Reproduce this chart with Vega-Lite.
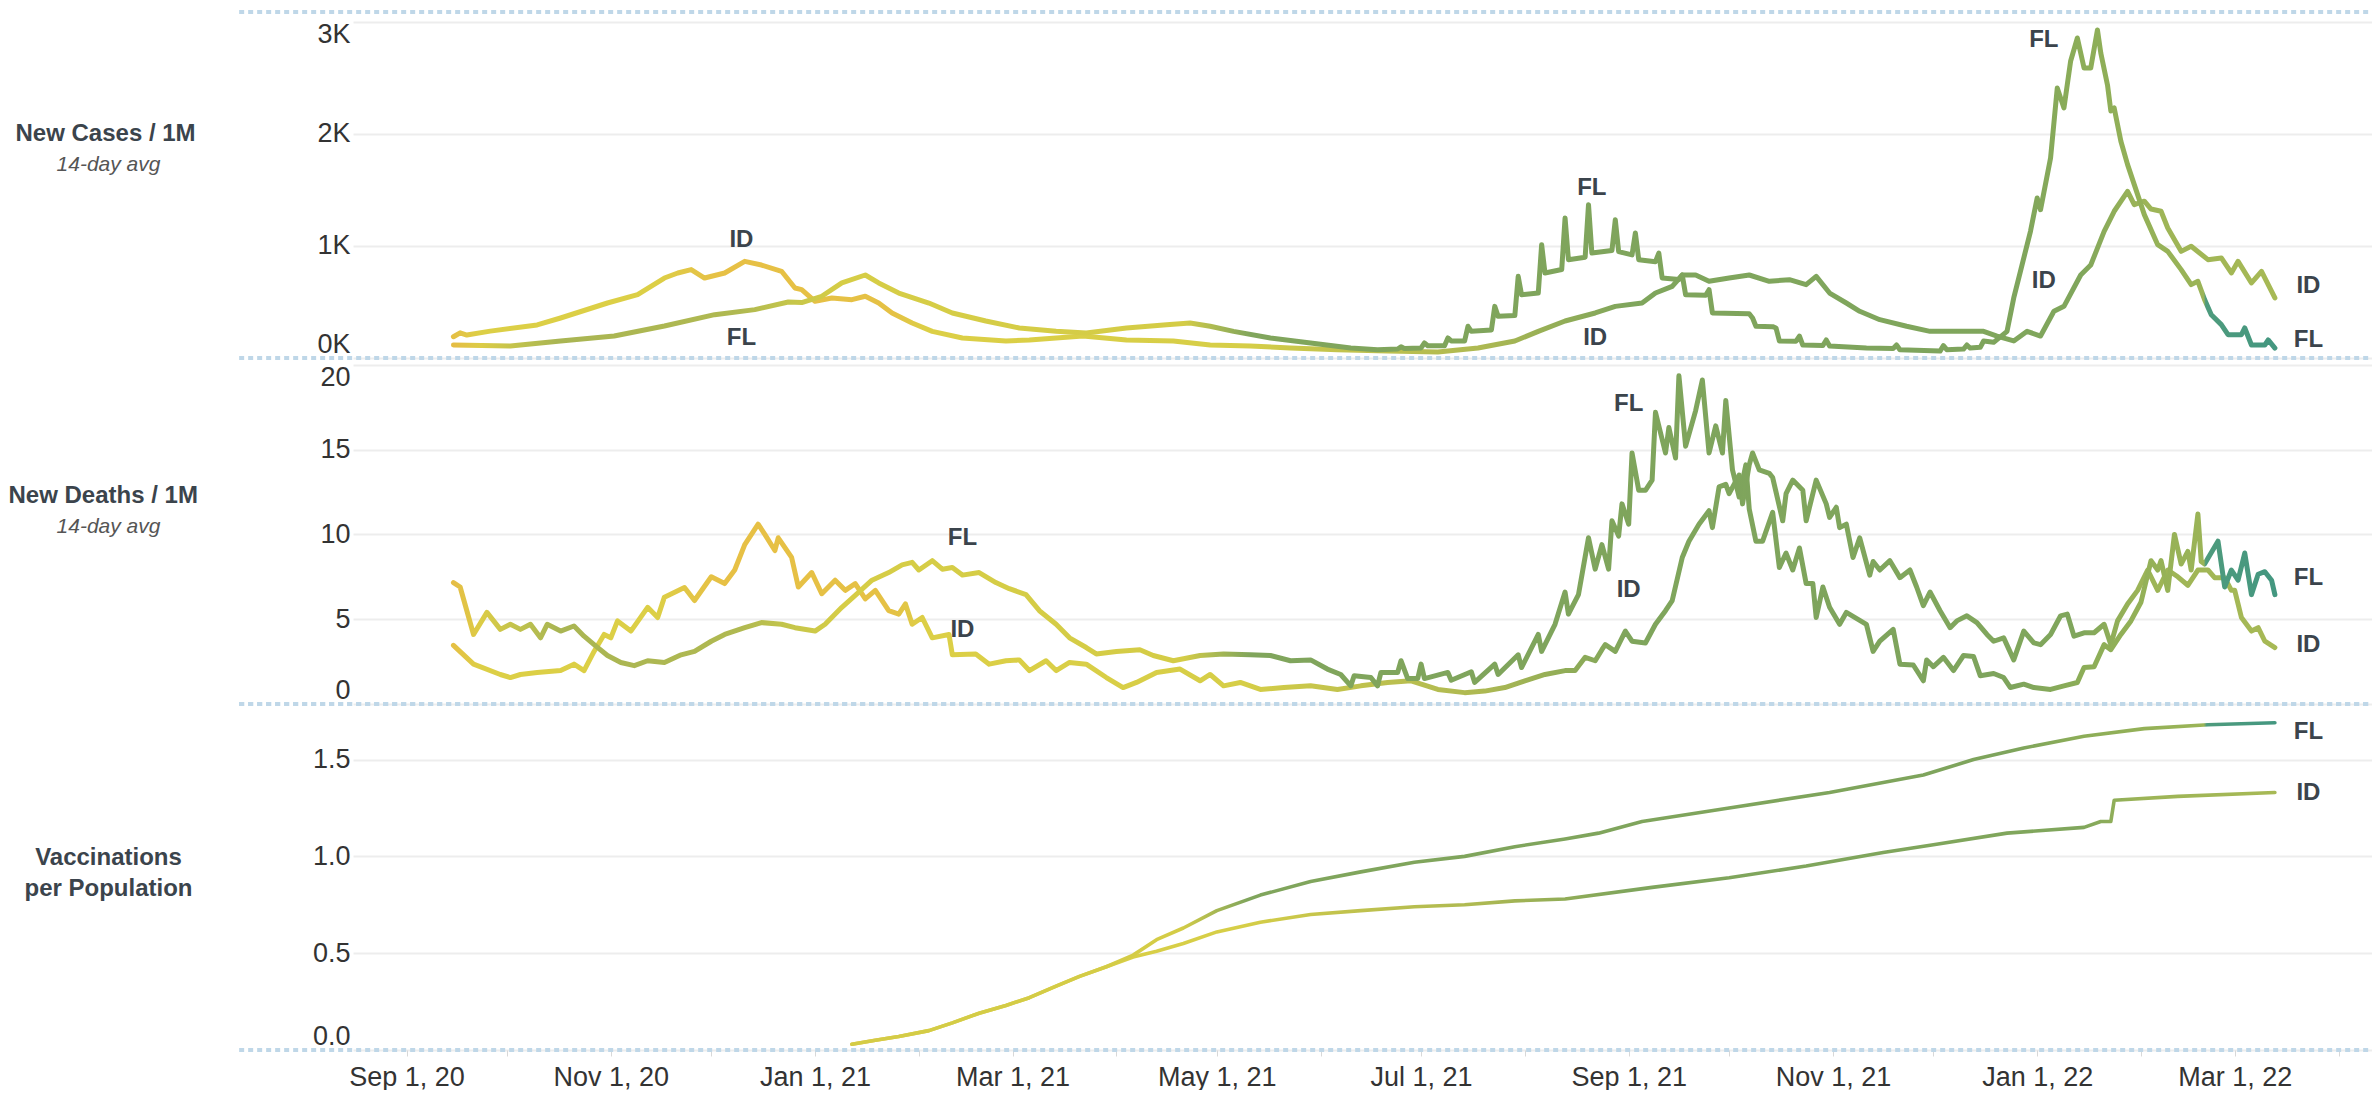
{
  "$schema": "https://vega.github.io/schema/vega-lite/v6.json",
  "background": "white",
  "padding": {"left": 8, "top": 10, "right": 0, "bottom": 0},
  "config": {"view": {"stroke": null}, "font": "Liberation Sans"},
  "bounds": "flush",
  "spacing": 0,
  "datasets": {
    "cases": [
      {"d":"2020-09-15","s":"FL","v":116},{"d":"2020-10-02","s":"FL","v":107},{"d":"2020-10-17","s":"FL","v":152},{"d":"2020-11-02","s":"FL","v":196},{"d":"2020-11-17","s":"FL","v":286},{"d":"2020-12-02","s":"FL","v":387},{"d":"2020-12-14","s":"FL","v":432},{"d":"2020-12-24","s":"FL","v":500},{"d":"2020-12-28","s":"FL","v":495},{"d":"2021-01-03","s":"FL","v":551},{"d":"2021-01-09","s":"FL","v":670},{"d":"2021-01-16","s":"FL","v":741},{"d":"2021-01-20","s":"FL","v":670},{"d":"2021-01-26","s":"FL","v":580},{"d":"2021-02-04","s":"FL","v":491},{"d":"2021-02-11","s":"FL","v":402},{"d":"2021-02-21","s":"FL","v":330},{"d":"2021-03-03","s":"FL","v":268},{"d":"2021-03-14","s":"FL","v":238},{"d":"2021-03-23","s":"FL","v":223},{"d":"2021-04-04","s":"FL","v":268},{"d":"2021-04-16","s":"FL","v":297},{"d":"2021-04-23","s":"FL","v":312},{"d":"2021-04-29","s":"FL","v":283},{"d":"2021-05-06","s":"FL","v":238},{"d":"2021-05-17","s":"FL","v":179},{"d":"2021-05-29","s":"FL","v":134},{"d":"2021-06-10","s":"FL","v":89},{"d":"2021-06-18","s":"FL","v":74},{"d":"2021-06-24","s":"FL","v":80},{"d":"2021-06-25","s":"FL","v":100},{"d":"2021-06-26","s":"FL","v":85},{"d":"2021-07-01","s":"FL","v":90},{"d":"2021-07-02","s":"FL","v":134},{"d":"2021-07-03","s":"FL","v":110},{"d":"2021-07-08","s":"FL","v":110},{"d":"2021-07-09","s":"FL","v":179},{"d":"2021-07-10","s":"FL","v":152},{"d":"2021-07-14","s":"FL","v":152},{"d":"2021-07-15","s":"FL","v":283},{"d":"2021-07-16","s":"FL","v":238},{"d":"2021-07-22","s":"FL","v":250},{"d":"2021-07-23","s":"FL","v":461},{"d":"2021-07-24","s":"FL","v":372},{"d":"2021-07-29","s":"FL","v":380},{"d":"2021-07-30","s":"FL","v":729},{"d":"2021-07-31","s":"FL","v":565},{"d":"2021-08-05","s":"FL","v":580},{"d":"2021-08-06","s":"FL","v":1012},{"d":"2021-08-07","s":"FL","v":759},{"d":"2021-08-12","s":"FL","v":790},{"d":"2021-08-13","s":"FL","v":1250},{"d":"2021-08-14","s":"FL","v":878},{"d":"2021-08-19","s":"FL","v":900},{"d":"2021-08-20","s":"FL","v":1369},{"d":"2021-08-21","s":"FL","v":937},{"d":"2021-08-27","s":"FL","v":960},{"d":"2021-08-28","s":"FL","v":1235},{"d":"2021-08-29","s":"FL","v":950},{"d":"2021-09-02","s":"FL","v":920},{"d":"2021-09-03","s":"FL","v":1116},{"d":"2021-09-04","s":"FL","v":878},{"d":"2021-09-09","s":"FL","v":860},{"d":"2021-09-10","s":"FL","v":937},{"d":"2021-09-11","s":"FL","v":714},{"d":"2021-09-16","s":"FL","v":700},{"d":"2021-09-17","s":"FL","v":741},{"d":"2021-09-18","s":"FL","v":565},{"d":"2021-09-24","s":"FL","v":560},{"d":"2021-09-25","s":"FL","v":610},{"d":"2021-09-26","s":"FL","v":402},{"d":"2021-10-07","s":"FL","v":395},{"d":"2021-10-08","s":"FL","v":357},{"d":"2021-10-09","s":"FL","v":283},{"d":"2021-10-14","s":"FL","v":280},{"d":"2021-10-15","s":"FL","v":268},{"d":"2021-10-16","s":"FL","v":152},{"d":"2021-10-21","s":"FL","v":150},{"d":"2021-10-22","s":"FL","v":196},{"d":"2021-10-23","s":"FL","v":116},{"d":"2021-10-29","s":"FL","v":112},{"d":"2021-10-30","s":"FL","v":161},{"d":"2021-10-31","s":"FL","v":107},{"d":"2021-11-11","s":"FL","v":89},{"d":"2021-11-19","s":"FL","v":85},{"d":"2021-11-20","s":"FL","v":116},{"d":"2021-11-21","s":"FL","v":74},{"d":"2021-12-03","s":"FL","v":62},{"d":"2021-12-04","s":"FL","v":110},{"d":"2021-12-05","s":"FL","v":74},{"d":"2021-12-10","s":"FL","v":80},{"d":"2021-12-11","s":"FL","v":116},{"d":"2021-12-12","s":"FL","v":89},{"d":"2021-12-15","s":"FL","v":95},{"d":"2021-12-16","s":"FL","v":152},{"d":"2021-12-19","s":"FL","v":140},{"d":"2021-12-23","s":"FL","v":238},{"d":"2021-12-25","s":"FL","v":536},{"d":"2021-12-27","s":"FL","v":774},{"d":"2021-12-30","s":"FL","v":1131},{"d":"2022-01-01","s":"FL","v":1429},{"d":"2022-01-02","s":"FL","v":1324},{"d":"2022-01-05","s":"FL","v":1786},{"d":"2022-01-07","s":"FL","v":2411},{"d":"2022-01-09","s":"FL","v":2232},{"d":"2022-01-11","s":"FL","v":2652},{"d":"2022-01-13","s":"FL","v":2857},{"d":"2022-01-15","s":"FL","v":2589},{"d":"2022-01-17","s":"FL","v":2589},{"d":"2022-01-19","s":"FL","v":2929},{"d":"2022-01-20","s":"FL","v":2723},{"d":"2022-01-22","s":"FL","v":2438},{"d":"2022-01-23","s":"FL","v":2205},{"d":"2022-01-24","s":"FL","v":2232},{"d":"2022-01-26","s":"FL","v":1935},{"d":"2022-01-28","s":"FL","v":1726},{"d":"2022-01-30","s":"FL","v":1548},{"d":"2022-02-02","s":"FL","v":1280},{"d":"2022-02-06","s":"FL","v":1012},{"d":"2022-02-09","s":"FL","v":952},{"d":"2022-02-13","s":"FL","v":789},{"d":"2022-02-16","s":"FL","v":655},{"d":"2022-02-18","s":"FL","v":685},{"d":"2022-02-20","s":"FL","v":521},{"d":"2022-02-22","s":"FL","v":387},{"d":"2022-02-25","s":"FL","v":298},{"d":"2022-02-27","s":"FL","v":208},{"d":"2022-03-03","s":"FL","v":208},{"d":"2022-03-04","s":"FL","v":268},{"d":"2022-03-06","s":"FL","v":116},{"d":"2022-03-10","s":"FL","v":116},{"d":"2022-03-11","s":"FL","v":161},{"d":"2022-03-13","s":"FL","v":89},
      {"d":"2020-09-15","s":"ID","v":190},{"d":"2020-09-17","s":"ID","v":225},{"d":"2020-09-19","s":"ID","v":205},{"d":"2020-09-26","s":"ID","v":240},{"d":"2020-10-10","s":"ID","v":295},{"d":"2020-10-17","s":"ID","v":357},{"d":"2020-10-31","s":"ID","v":491},{"d":"2020-11-09","s":"ID","v":565},{"d":"2020-11-17","s":"ID","v":714},{"d":"2020-11-21","s":"ID","v":759},{"d":"2020-11-25","s":"ID","v":789},{"d":"2020-11-29","s":"ID","v":714},{"d":"2020-12-05","s":"ID","v":759},{"d":"2020-12-11","s":"ID","v":863},{"d":"2020-12-16","s":"ID","v":830},{"d":"2020-12-22","s":"ID","v":774},{"d":"2020-12-26","s":"ID","v":625},{"d":"2020-12-28","s":"ID","v":610},{"d":"2021-01-01","s":"ID","v":506},{"d":"2021-01-06","s":"ID","v":536},{"d":"2021-01-12","s":"ID","v":521},{"d":"2021-01-16","s":"ID","v":551},{"d":"2021-01-20","s":"ID","v":491},{"d":"2021-01-24","s":"ID","v":402},{"d":"2021-01-30","s":"ID","v":312},{"d":"2021-02-05","s":"ID","v":238},{"d":"2021-02-14","s":"ID","v":179},{"d":"2021-02-27","s":"ID","v":152},{"d":"2021-03-06","s":"ID","v":161},{"d":"2021-03-22","s":"ID","v":196},{"d":"2021-04-04","s":"ID","v":161},{"d":"2021-04-18","s":"ID","v":152},{"d":"2021-04-29","s":"ID","v":116},{"d":"2021-05-11","s":"ID","v":107},{"d":"2021-05-23","s":"ID","v":89},{"d":"2021-06-06","s":"ID","v":74},{"d":"2021-06-21","s":"ID","v":62},{"d":"2021-07-06","s":"ID","v":54},{"d":"2021-07-18","s":"ID","v":89},{"d":"2021-07-29","s":"ID","v":152},{"d":"2021-08-05","s":"ID","v":238},{"d":"2021-08-13","s":"ID","v":330},{"d":"2021-08-22","s":"ID","v":402},{"d":"2021-08-28","s":"ID","v":461},{"d":"2021-09-05","s":"ID","v":491},{"d":"2021-09-09","s":"ID","v":580},{"d":"2021-09-14","s":"ID","v":640},{"d":"2021-09-17","s":"ID","v":741},{"d":"2021-09-21","s":"ID","v":741},{"d":"2021-09-25","s":"ID","v":685},{"d":"2021-10-01","s":"ID","v":714},{"d":"2021-10-07","s":"ID","v":741},{"d":"2021-10-13","s":"ID","v":685},{"d":"2021-10-19","s":"ID","v":699},{"d":"2021-10-24","s":"ID","v":655},{"d":"2021-10-27","s":"ID","v":729},{"d":"2021-10-31","s":"ID","v":580},{"d":"2021-11-05","s":"ID","v":491},{"d":"2021-11-09","s":"ID","v":417},{"d":"2021-11-15","s":"ID","v":342},{"d":"2021-11-23","s":"ID","v":283},{"d":"2021-11-30","s":"ID","v":238},{"d":"2021-12-10","s":"ID","v":238},{"d":"2021-12-16","s":"ID","v":238},{"d":"2021-12-20","s":"ID","v":196},{"d":"2021-12-25","s":"ID","v":152},{"d":"2021-12-29","s":"ID","v":238},{"d":"2022-01-02","s":"ID","v":196},{"d":"2022-01-06","s":"ID","v":417},{"d":"2022-01-09","s":"ID","v":461},{"d":"2022-01-14","s":"ID","v":741},{"d":"2022-01-17","s":"ID","v":830},{"d":"2022-01-21","s":"ID","v":1131},{"d":"2022-01-24","s":"ID","v":1310},{"d":"2022-01-28","s":"ID","v":1488},{"d":"2022-01-30","s":"ID","v":1369},{"d":"2022-02-02","s":"ID","v":1400},{"d":"2022-02-04","s":"ID","v":1330},{"d":"2022-02-07","s":"ID","v":1310},{"d":"2022-02-09","s":"ID","v":1161},{"d":"2022-02-13","s":"ID","v":952},{"d":"2022-02-16","s":"ID","v":997},{"d":"2022-02-21","s":"ID","v":878},{"d":"2022-02-25","s":"ID","v":893},{"d":"2022-02-28","s":"ID","v":759},{"d":"2022-03-02","s":"ID","v":863},{"d":"2022-03-06","s":"ID","v":670},{"d":"2022-03-09","s":"ID","v":774},{"d":"2022-03-13","s":"ID","v":536}
    ],
    "deaths": [
      {"d":"2020-09-15","s":"FL","v":7.16},{"d":"2020-09-17","s":"FL","v":6.9},{"d":"2020-09-21","s":"FL","v":4.1},{"d":"2020-09-25","s":"FL","v":5.4},{"d":"2020-09-29","s":"FL","v":4.4},{"d":"2020-10-02","s":"FL","v":4.7},{"d":"2020-10-05","s":"FL","v":4.4},{"d":"2020-10-08","s":"FL","v":4.7},{"d":"2020-10-11","s":"FL","v":3.9},{"d":"2020-10-13","s":"FL","v":4.7},{"d":"2020-10-17","s":"FL","v":4.3},{"d":"2020-10-21","s":"FL","v":4.6},{"d":"2020-10-24","s":"FL","v":4.0},{"d":"2020-10-27","s":"FL","v":3.5},{"d":"2020-10-31","s":"FL","v":2.86},{"d":"2020-11-04","s":"FL","v":2.45},{"d":"2020-11-08","s":"FL","v":2.26},{"d":"2020-11-12","s":"FL","v":2.55},{"d":"2020-11-17","s":"FL","v":2.45},{"d":"2020-11-22","s":"FL","v":2.9},{"d":"2020-11-26","s":"FL","v":3.1},{"d":"2020-12-01","s":"FL","v":3.7},{"d":"2020-12-05","s":"FL","v":4.1},{"d":"2020-12-11","s":"FL","v":4.5},{"d":"2020-12-16","s":"FL","v":4.8},{"d":"2020-12-22","s":"FL","v":4.7},{"d":"2020-12-26","s":"FL","v":4.5},{"d":"2021-01-01","s":"FL","v":4.3},{"d":"2021-01-04","s":"FL","v":4.7},{"d":"2021-01-09","s":"FL","v":5.7},{"d":"2021-01-13","s":"FL","v":6.4},{"d":"2021-01-18","s":"FL","v":7.3},{"d":"2021-01-23","s":"FL","v":7.75},{"d":"2021-01-27","s":"FL","v":8.2},{"d":"2021-01-30","s":"FL","v":8.35},{"d":"2021-02-01","s":"FL","v":7.9},{"d":"2021-02-05","s":"FL","v":8.45},{"d":"2021-02-08","s":"FL","v":7.95},{"d":"2021-02-11","s":"FL","v":8.05},{"d":"2021-02-14","s":"FL","v":7.6},{"d":"2021-02-19","s":"FL","v":7.75},{"d":"2021-02-24","s":"FL","v":7.16},{"d":"2021-02-28","s":"FL","v":6.8},{"d":"2021-03-05","s":"FL","v":6.45},{"d":"2021-03-09","s":"FL","v":5.5},{"d":"2021-03-14","s":"FL","v":4.7},{"d":"2021-03-18","s":"FL","v":3.9},{"d":"2021-03-23","s":"FL","v":3.33},{"d":"2021-03-26","s":"FL","v":2.95},{"d":"2021-04-01","s":"FL","v":3.1},{"d":"2021-04-08","s":"FL","v":3.2},{"d":"2021-04-12","s":"FL","v":2.86},{"d":"2021-04-18","s":"FL","v":2.55},{"d":"2021-04-26","s":"FL","v":2.86},{"d":"2021-05-03","s":"FL","v":2.95},{"d":"2021-05-11","s":"FL","v":2.9},{"d":"2021-05-17","s":"FL","v":2.86},{"d":"2021-05-23","s":"FL","v":2.55},{"d":"2021-05-29","s":"FL","v":2.6},{"d":"2021-06-03","s":"FL","v":2.06},{"d":"2021-06-07","s":"FL","v":1.74},{"d":"2021-06-10","s":"FL","v":1.07},{"d":"2021-06-11","s":"FL","v":1.67},{"d":"2021-06-16","s":"FL","v":1.56},{"d":"2021-06-18","s":"FL","v":1.07},{"d":"2021-06-19","s":"FL","v":1.86},{"d":"2021-06-24","s":"FL","v":1.86},{"d":"2021-06-25","s":"FL","v":2.55},{"d":"2021-06-27","s":"FL","v":1.5},{"d":"2021-06-30","s":"FL","v":1.5},{"d":"2021-07-01","s":"FL","v":2.35},{"d":"2021-07-02","s":"FL","v":1.5},{"d":"2021-07-09","s":"FL","v":1.86},{"d":"2021-07-10","s":"FL","v":1.4},{"d":"2021-07-16","s":"FL","v":1.9},{"d":"2021-07-17","s":"FL","v":1.27},{"d":"2021-07-23","s":"FL","v":2.35},{"d":"2021-07-24","s":"FL","v":1.74},{"d":"2021-07-30","s":"FL","v":2.9},{"d":"2021-07-31","s":"FL","v":2.15},{"d":"2021-08-05","s":"FL","v":4.1},{"d":"2021-08-06","s":"FL","v":3.1},{"d":"2021-08-10","s":"FL","v":4.7},{"d":"2021-08-13","s":"FL","v":6.6},{"d":"2021-08-14","s":"FL","v":5.3},{"d":"2021-08-17","s":"FL","v":6.45},{"d":"2021-08-20","s":"FL","v":9.8},{"d":"2021-08-22","s":"FL","v":7.95},{"d":"2021-08-24","s":"FL","v":9.4},{"d":"2021-08-26","s":"FL","v":7.95},{"d":"2021-08-27","s":"FL","v":10.8},{"d":"2021-08-29","s":"FL","v":9.9},{"d":"2021-08-30","s":"FL","v":11.8},{"d":"2021-09-01","s":"FL","v":10.6},{"d":"2021-09-02","s":"FL","v":14.8},{"d":"2021-09-04","s":"FL","v":12.6},{"d":"2021-09-06","s":"FL","v":12.6},{"d":"2021-09-08","s":"FL","v":13.2},{"d":"2021-09-09","s":"FL","v":17.2},{"d":"2021-09-12","s":"FL","v":14.8},{"d":"2021-09-13","s":"FL","v":16.3},{"d":"2021-09-15","s":"FL","v":14.5},{"d":"2021-09-16","s":"FL","v":19.35},{"d":"2021-09-18","s":"FL","v":15.2},{"d":"2021-09-21","s":"FL","v":17.3},{"d":"2021-09-23","s":"FL","v":19.1},{"d":"2021-09-25","s":"FL","v":14.8},{"d":"2021-09-27","s":"FL","v":16.4},{"d":"2021-09-29","s":"FL","v":14.8},{"d":"2021-09-30","s":"FL","v":17.9},{"d":"2021-10-02","s":"FL","v":13.8},{"d":"2021-10-04","s":"FL","v":12.2},{"d":"2021-10-06","s":"FL","v":14.1},{"d":"2021-10-07","s":"FL","v":11.5},{"d":"2021-10-09","s":"FL","v":9.6},{"d":"2021-10-11","s":"FL","v":9.6},{"d":"2021-10-14","s":"FL","v":11.3},{"d":"2021-10-16","s":"FL","v":8.05},{"d":"2021-10-18","s":"FL","v":8.9},{"d":"2021-10-20","s":"FL","v":7.9},{"d":"2021-10-22","s":"FL","v":9.2},{"d":"2021-10-24","s":"FL","v":7.1},{"d":"2021-10-26","s":"FL","v":7.1},{"d":"2021-10-27","s":"FL","v":5.1},{"d":"2021-10-29","s":"FL","v":6.9},{"d":"2021-10-31","s":"FL","v":5.7},{"d":"2021-11-03","s":"FL","v":4.7},{"d":"2021-11-05","s":"FL","v":5.4},{"d":"2021-11-11","s":"FL","v":4.7},{"d":"2021-11-13","s":"FL","v":3.1},{"d":"2021-11-15","s":"FL","v":3.7},{"d":"2021-11-19","s":"FL","v":4.4},{"d":"2021-11-21","s":"FL","v":2.35},{"d":"2021-11-25","s":"FL","v":2.3},{"d":"2021-11-28","s":"FL","v":1.37},{"d":"2021-11-29","s":"FL","v":2.6},{"d":"2021-12-01","s":"FL","v":2.2},{"d":"2021-12-04","s":"FL","v":2.75},{"d":"2021-12-07","s":"FL","v":1.97},{"d":"2021-12-10","s":"FL","v":2.86},{"d":"2021-12-13","s":"FL","v":2.8},{"d":"2021-12-15","s":"FL","v":1.67},{"d":"2021-12-19","s":"FL","v":1.8},{"d":"2021-12-22","s":"FL","v":1.56},{"d":"2021-12-24","s":"FL","v":0.97},{"d":"2021-12-28","s":"FL","v":1.17},{"d":"2021-12-31","s":"FL","v":0.97},{"d":"2022-01-05","s":"FL","v":0.86},{"d":"2022-01-09","s":"FL","v":1.07},{"d":"2022-01-13","s":"FL","v":1.27},{"d":"2022-01-15","s":"FL","v":2.15},{"d":"2022-01-18","s":"FL","v":2.2},{"d":"2022-01-21","s":"FL","v":3.5},{"d":"2022-01-23","s":"FL","v":3.2},{"d":"2022-01-26","s":"FL","v":4.1},{"d":"2022-01-29","s":"FL","v":4.9},{"d":"2022-02-01","s":"FL","v":6.0},{"d":"2022-02-04","s":"FL","v":8.45},{"d":"2022-02-06","s":"FL","v":7.9},{"d":"2022-02-07","s":"FL","v":8.45},{"d":"2022-02-09","s":"FL","v":6.7},{"d":"2022-02-11","s":"FL","v":10.0},{"d":"2022-02-13","s":"FL","v":8.25},{"d":"2022-02-15","s":"FL","v":9.0},{"d":"2022-02-16","s":"FL","v":7.9},{"d":"2022-02-18","s":"FL","v":11.2},{"d":"2022-02-19","s":"FL","v":8.4},{"d":"2022-02-20","s":"FL","v":8.25},{"d":"2022-02-24","s":"FL","v":9.6},{"d":"2022-02-26","s":"FL","v":6.9},{"d":"2022-02-28","s":"FL","v":7.9},{"d":"2022-03-02","s":"FL","v":7.3},{"d":"2022-03-04","s":"FL","v":8.9},{"d":"2022-03-06","s":"FL","v":6.45},{"d":"2022-03-08","s":"FL","v":7.65},{"d":"2022-03-10","s":"FL","v":7.8},{"d":"2022-03-12","s":"FL","v":7.3},{"d":"2022-03-13","s":"FL","v":6.45},
      {"d":"2020-09-15","s":"ID","v":3.46},{"d":"2020-09-21","s":"ID","v":2.35},{"d":"2020-09-29","s":"ID","v":1.74},{"d":"2020-10-02","s":"ID","v":1.56},{"d":"2020-10-05","s":"ID","v":1.74},{"d":"2020-10-10","s":"ID","v":1.86},{"d":"2020-10-17","s":"ID","v":1.97},{"d":"2020-10-21","s":"ID","v":2.35},{"d":"2020-10-24","s":"ID","v":1.97},{"d":"2020-10-27","s":"ID","v":3.1},{"d":"2020-10-30","s":"ID","v":4.1},{"d":"2020-11-01","s":"ID","v":3.9},{"d":"2020-11-03","s":"ID","v":4.9},{"d":"2020-11-07","s":"ID","v":4.3},{"d":"2020-11-12","s":"ID","v":5.7},{"d":"2020-11-15","s":"ID","v":5.1},{"d":"2020-11-17","s":"ID","v":6.3},{"d":"2020-11-23","s":"ID","v":6.87},{"d":"2020-11-26","s":"ID","v":6.1},{"d":"2020-12-01","s":"ID","v":7.5},{"d":"2020-12-05","s":"ID","v":7.1},{"d":"2020-12-08","s":"ID","v":7.9},{"d":"2020-12-11","s":"ID","v":9.4},{"d":"2020-12-15","s":"ID","v":10.6},{"d":"2020-12-17","s":"ID","v":10.0},{"d":"2020-12-20","s":"ID","v":9.05},{"d":"2020-12-21","s":"ID","v":9.8},{"d":"2020-12-25","s":"ID","v":8.64},{"d":"2020-12-27","s":"ID","v":6.9},{"d":"2020-12-31","s":"ID","v":7.75},{"d":"2021-01-03","s":"ID","v":6.5},{"d":"2021-01-07","s":"ID","v":7.3},{"d":"2021-01-10","s":"ID","v":6.7},{"d":"2021-01-13","s":"ID","v":7.1},{"d":"2021-01-16","s":"ID","v":6.2},{"d":"2021-01-19","s":"ID","v":6.7},{"d":"2021-01-23","s":"ID","v":5.5},{"d":"2021-01-26","s":"ID","v":5.3},{"d":"2021-01-28","s":"ID","v":5.9},{"d":"2021-01-30","s":"ID","v":4.7},{"d":"2021-02-02","s":"ID","v":5.1},{"d":"2021-02-05","s":"ID","v":3.9},{"d":"2021-02-10","s":"ID","v":4.1},{"d":"2021-02-11","s":"ID","v":2.9},{"d":"2021-02-18","s":"ID","v":2.95},{"d":"2021-02-22","s":"ID","v":2.35},{"d":"2021-02-27","s":"ID","v":2.55},{"d":"2021-03-03","s":"ID","v":2.6},{"d":"2021-03-06","s":"ID","v":1.97},{"d":"2021-03-11","s":"ID","v":2.55},{"d":"2021-03-14","s":"ID","v":1.97},{"d":"2021-03-18","s":"ID","v":2.45},{"d":"2021-03-23","s":"ID","v":2.35},{"d":"2021-03-29","s":"ID","v":1.56},{"d":"2021-04-03","s":"ID","v":0.97},{"d":"2021-04-07","s":"ID","v":1.27},{"d":"2021-04-13","s":"ID","v":1.86},{"d":"2021-04-20","s":"ID","v":2.06},{"d":"2021-04-26","s":"ID","v":1.37},{"d":"2021-04-29","s":"ID","v":1.74},{"d":"2021-05-03","s":"ID","v":1.07},{"d":"2021-05-08","s":"ID","v":1.27},{"d":"2021-05-14","s":"ID","v":0.86},{"d":"2021-05-21","s":"ID","v":0.97},{"d":"2021-05-29","s":"ID","v":1.07},{"d":"2021-06-06","s":"ID","v":0.86},{"d":"2021-06-13","s":"ID","v":1.07},{"d":"2021-06-21","s":"ID","v":1.27},{"d":"2021-06-28","s":"ID","v":1.37},{"d":"2021-07-06","s":"ID","v":0.86},{"d":"2021-07-14","s":"ID","v":0.67},{"d":"2021-07-20","s":"ID","v":0.76},{"d":"2021-07-26","s":"ID","v":0.97},{"d":"2021-08-01","s":"ID","v":1.37},{"d":"2021-08-07","s":"ID","v":1.74},{"d":"2021-08-13","s":"ID","v":1.97},{"d":"2021-08-16","s":"ID","v":1.97},{"d":"2021-08-19","s":"ID","v":2.75},{"d":"2021-08-22","s":"ID","v":2.55},{"d":"2021-08-24","s":"ID","v":3.2},{"d":"2021-08-25","s":"ID","v":3.5},{"d":"2021-08-28","s":"ID","v":3.1},{"d":"2021-08-31","s":"ID","v":4.3},{"d":"2021-09-02","s":"ID","v":3.7},{"d":"2021-09-06","s":"ID","v":3.6},{"d":"2021-09-09","s":"ID","v":4.7},{"d":"2021-09-12","s":"ID","v":5.5},{"d":"2021-09-14","s":"ID","v":6.1},{"d":"2021-09-17","s":"ID","v":8.64},{"d":"2021-09-19","s":"ID","v":9.6},{"d":"2021-09-22","s":"ID","v":10.6},{"d":"2021-09-25","s":"ID","v":11.4},{"d":"2021-09-26","s":"ID","v":10.4},{"d":"2021-09-28","s":"ID","v":12.8},{"d":"2021-09-30","s":"ID","v":12.95},{"d":"2021-10-01","s":"ID","v":12.4},{"d":"2021-10-04","s":"ID","v":13.5},{"d":"2021-10-05","s":"ID","v":11.8},{"d":"2021-10-07","s":"ID","v":14.1},{"d":"2021-10-08","s":"ID","v":14.8},{"d":"2021-10-10","s":"ID","v":13.8},{"d":"2021-10-13","s":"ID","v":13.6},{"d":"2021-10-14","s":"ID","v":13.35},{"d":"2021-10-17","s":"ID","v":10.8},{"d":"2021-10-18","s":"ID","v":12.4},{"d":"2021-10-20","s":"ID","v":13.2},{"d":"2021-10-23","s":"ID","v":12.6},{"d":"2021-10-24","s":"ID","v":10.8},{"d":"2021-10-27","s":"ID","v":13.2},{"d":"2021-10-30","s":"ID","v":11.8},{"d":"2021-10-31","s":"ID","v":11.0},{"d":"2021-11-02","s":"ID","v":11.6},{"d":"2021-11-03","s":"ID","v":10.4},{"d":"2021-11-05","s":"ID","v":10.6},{"d":"2021-11-07","s":"ID","v":8.64},{"d":"2021-11-09","s":"ID","v":9.8},{"d":"2021-11-12","s":"ID","v":7.6},{"d":"2021-11-13","s":"ID","v":8.4},{"d":"2021-11-15","s":"ID","v":7.9},{"d":"2021-11-18","s":"ID","v":8.45},{"d":"2021-11-21","s":"ID","v":7.45},{"d":"2021-11-24","s":"ID","v":7.9},{"d":"2021-11-26","s":"ID","v":6.9},{"d":"2021-11-28","s":"ID","v":5.8},{"d":"2021-11-30","s":"ID","v":6.6},{"d":"2021-12-03","s":"ID","v":5.5},{"d":"2021-12-06","s":"ID","v":4.5},{"d":"2021-12-08","s":"ID","v":4.9},{"d":"2021-12-11","s":"ID","v":5.2},{"d":"2021-12-14","s":"ID","v":4.8},{"d":"2021-12-17","s":"ID","v":4.1},{"d":"2021-12-19","s":"ID","v":3.7},{"d":"2021-12-22","s":"ID","v":3.9},{"d":"2021-12-25","s":"ID","v":2.6},{"d":"2021-12-28","s":"ID","v":4.3},{"d":"2021-12-31","s":"ID","v":3.6},{"d":"2022-01-02","s":"ID","v":3.5},{"d":"2022-01-05","s":"ID","v":4.1},{"d":"2022-01-08","s":"ID","v":5.2},{"d":"2022-01-10","s":"ID","v":5.3},{"d":"2022-01-12","s":"ID","v":4.0},{"d":"2022-01-15","s":"ID","v":4.2},{"d":"2022-01-18","s":"ID","v":4.2},{"d":"2022-01-21","s":"ID","v":4.7},{"d":"2022-01-23","s":"ID","v":3.5},{"d":"2022-01-25","s":"ID","v":4.9},{"d":"2022-01-28","s":"ID","v":5.9},{"d":"2022-01-31","s":"ID","v":6.7},{"d":"2022-02-03","s":"ID","v":7.9},{"d":"2022-02-06","s":"ID","v":6.7},{"d":"2022-02-09","s":"ID","v":7.9},{"d":"2022-02-12","s":"ID","v":7.5},{"d":"2022-02-15","s":"ID","v":7.0},{"d":"2022-02-18","s":"ID","v":7.9},{"d":"2022-02-21","s":"ID","v":7.9},{"d":"2022-02-23","s":"ID","v":7.45},{"d":"2022-02-26","s":"ID","v":7.45},{"d":"2022-02-28","s":"ID","v":6.7},{"d":"2022-03-01","s":"ID","v":6.7},{"d":"2022-03-03","s":"ID","v":5.1},{"d":"2022-03-06","s":"ID","v":4.3},{"d":"2022-03-08","s":"ID","v":4.5},{"d":"2022-03-10","s":"ID","v":3.7},{"d":"2022-03-13","s":"ID","v":3.33}
    ],
    "vacc": [
      {"d":"2021-01-12","s":"FL","v":0.03},{"d":"2021-01-19","s":"FL","v":0.05},{"d":"2021-01-26","s":"FL","v":0.07},{"d":"2021-02-04","s":"FL","v":0.1},{"d":"2021-02-11","s":"FL","v":0.14},{"d":"2021-02-19","s":"FL","v":0.19},{"d":"2021-02-27","s":"FL","v":0.23},{"d":"2021-03-06","s":"FL","v":0.27},{"d":"2021-03-14","s":"FL","v":0.33},{"d":"2021-03-21","s":"FL","v":0.38},{"d":"2021-03-29","s":"FL","v":0.43},{"d":"2021-04-06","s":"FL","v":0.49},{"d":"2021-04-13","s":"FL","v":0.57},{"d":"2021-04-21","s":"FL","v":0.63},{"d":"2021-05-01","s":"FL","v":0.72},{"d":"2021-05-14","s":"FL","v":0.8},{"d":"2021-05-29","s":"FL","v":0.87},{"d":"2021-06-13","s":"FL","v":0.92},{"d":"2021-06-29","s":"FL","v":0.97},{"d":"2021-07-14","s":"FL","v":1.0},{"d":"2021-07-29","s":"FL","v":1.05},{"d":"2021-08-13","s":"FL","v":1.09},{"d":"2021-08-23","s":"FL","v":1.12},{"d":"2021-09-05","s":"FL","v":1.18},{"d":"2021-10-01","s":"FL","v":1.25},{"d":"2021-10-31","s":"FL","v":1.33},{"d":"2021-11-28","s":"FL","v":1.42},{"d":"2021-12-13","s":"FL","v":1.5},{"d":"2021-12-28","s":"FL","v":1.56},{"d":"2022-01-15","s":"FL","v":1.62},{"d":"2022-02-02","s":"FL","v":1.66},{"d":"2022-02-21","s":"FL","v":1.68},{"d":"2022-03-13","s":"FL","v":1.69},
      {"d":"2021-01-12","s":"ID","v":0.03},{"d":"2021-01-19","s":"ID","v":0.05},{"d":"2021-01-26","s":"ID","v":0.07},{"d":"2021-02-04","s":"ID","v":0.1},{"d":"2021-02-11","s":"ID","v":0.14},{"d":"2021-02-19","s":"ID","v":0.19},{"d":"2021-02-27","s":"ID","v":0.23},{"d":"2021-03-06","s":"ID","v":0.27},{"d":"2021-03-14","s":"ID","v":0.33},{"d":"2021-03-21","s":"ID","v":0.38},{"d":"2021-03-29","s":"ID","v":0.43},{"d":"2021-04-06","s":"ID","v":0.48},{"d":"2021-04-13","s":"ID","v":0.51},{"d":"2021-04-21","s":"ID","v":0.55},{"d":"2021-05-01","s":"ID","v":0.61},{"d":"2021-05-14","s":"ID","v":0.66},{"d":"2021-05-29","s":"ID","v":0.7},{"d":"2021-06-13","s":"ID","v":0.72},{"d":"2021-06-29","s":"ID","v":0.74},{"d":"2021-07-14","s":"ID","v":0.75},{"d":"2021-07-29","s":"ID","v":0.77},{"d":"2021-08-13","s":"ID","v":0.78},{"d":"2021-09-08","s":"ID","v":0.84},{"d":"2021-10-01","s":"ID","v":0.89},{"d":"2021-10-24","s":"ID","v":0.95},{"d":"2021-11-16","s":"ID","v":1.02},{"d":"2021-12-01","s":"ID","v":1.06},{"d":"2021-12-23","s":"ID","v":1.12},{"d":"2022-01-15","s":"ID","v":1.15},{"d":"2022-01-20","s":"ID","v":1.18},{"d":"2022-01-23","s":"ID","v":1.18},{"d":"2022-01-24","s":"ID","v":1.29},{"d":"2022-02-12","s":"ID","v":1.31},{"d":"2022-03-13","s":"ID","v":1.33}
    ],
    "labels": [
      {"m":"cases","d":"2020-12-10","v":1054,"t":"ID"},{"m":"cases","d":"2020-12-10","v":179,"t":"FL"},{"m":"cases","d":"2021-08-21","v":1518,"t":"FL"},{"m":"cases","d":"2021-08-22","v":179,"t":"ID"},{"m":"cases","d":"2022-01-03","v":2839,"t":"FL"},{"m":"cases","d":"2022-01-03","v":687,"t":"ID"},{"m":"cases","d":"2022-03-23","v":643,"t":"ID"},{"m":"cases","d":"2022-03-23","v":161,"t":"FL"},
      {"m":"deaths","d":"2021-02-14","v":9.8,"t":"FL"},{"m":"deaths","d":"2021-02-14","v":4.35,"t":"ID"},{"m":"deaths","d":"2021-09-01","v":17.7,"t":"FL"},{"m":"deaths","d":"2021-09-01","v":6.75,"t":"ID"},{"m":"deaths","d":"2022-03-23","v":7.4,"t":"FL"},{"m":"deaths","d":"2022-03-23","v":3.45,"t":"ID"},
      {"m":"vacc","d":"2022-03-23","v":1.64,"t":"FL"},{"m":"vacc","d":"2022-03-23","v":1.325,"t":"ID"}
    ]
  },
  "vconcat": [
    {
      "width": 2019, "height": 346,
      "resolve": {"axis": {"y": "independent"}},
      "layer": [
        {"data": {"values": [{}]}, "mark": {"type": "rule", "stroke": "#bfd7e8", "strokeWidth": 4, "strokeDash": [5, 4]},
         "encoding": {"x": {"datum": {"year": 2020, "month": "jul", "date": 13, "utc": true}, "type": "temporal", "scale": {"type": "utc", "domain": [{"year": 2020, "month": "aug", "date": 16, "utc": true}, {"year": 2022, "month": "apr", "date": 11, "utc": true}]}, "axis": null},
                      "x2": {"datum": {"year": 2022, "month": "apr", "date": 10, "utc": true}},
                      "y": {"datum": 3089, "type": "quantitative", "scale": {"domain": [0, 3089], "nice": false}, "axis": null}}},
        {"data": {"values": [{}]}, "mark": {"type": "rule", "stroke": "#bfd7e8", "strokeWidth": 4, "strokeDash": [5, 4]},
         "encoding": {"x": {"datum": {"year": 2020, "month": "jul", "date": 13, "utc": true}, "type": "temporal", "scale": {"type": "utc", "domain": [{"year": 2020, "month": "aug", "date": 16, "utc": true}, {"year": 2022, "month": "apr", "date": 11, "utc": true}]}, "axis": null},
                      "x2": {"datum": {"year": 2022, "month": "apr", "date": 10, "utc": true}},
                      "y": {"datum": 0, "type": "quantitative", "scale": {"domain": [0, 3089], "nice": false}, "axis": null}}},
        {"data": {"name": "cases"}, "transform": [{"filter": "datum.s === 'ID'"}],
         "mark": {"type": "line", "strokeWidth": 5, "strokeCap": "round", "strokeJoin": "round",
                  "stroke": {"gradient": "linear", "x1": 0, "y1": 0, "x2": 1, "y2": 0, "stops": [{"offset":0,"color":"#e5c045"},{"offset":0.015,"color":"#dccf46"},{"offset":0.112,"color":"#dccf46"},{"offset":0.131,"color":"#e3c546"},{"offset":0.149,"color":"#e7c045"},{"offset":0.241,"color":"#e5c145"},{"offset":0.259,"color":"#dccf46"},{"offset":0.434,"color":"#d6ce47"},{"offset":0.48,"color":"#c4c44c"},{"offset":0.563,"color":"#aeb952"},{"offset":0.608,"color":"#92ad57"},{"offset":0.645,"color":"#7fa55c"},{"offset":0.893,"color":"#80a65c"},{"offset":0.926,"color":"#9cb457"},{"offset":1,"color":"#a7b955"}]}},
         "encoding": {"x": {"field": "d", "type": "temporal", "scale": {"type": "utc", "domain": [{"year": 2020, "month": "aug", "date": 16, "utc": true}, {"year": 2022, "month": "apr", "date": 11, "utc": true}]}, "axis": null},
                      "y": {"field": "v", "type": "quantitative", "scale": {"domain": [0, 3089], "nice": false},
                            "axis": {"orient": "left", "labels": false, "ticks": false, "domain": false, "grid": false, "title": "14-day avg", "titleFont": "Liberation Sans", "titleFontSize": 21, "titleFontStyle": "italic", "titleFontWeight": "normal", "titleColor": "#555555", "titleAngle": 0, "titleAlign": "center", "titleBaseline": "middle", "titleX": -245, "titleY": 152}}}},
        {"data": {"name": "cases"}, "transform": [{"filter": "datum.s === 'FL'"}],
         "mark": {"type": "line", "strokeWidth": 5, "strokeCap": "round", "strokeJoin": "round",
                  "stroke": {"gradient": "linear", "x1": 0, "y1": 0, "x2": 1, "y2": 0, "stops": [{"offset":0,"color":"#e5bd45"},{"offset":0.015,"color":"#dccc46"},{"offset":0.039,"color":"#bcc04e"},{"offset":0.057,"color":"#a9b553"},{"offset":0.158,"color":"#b0b951"},{"offset":0.186,"color":"#c6c64a"},{"offset":0.213,"color":"#d6cd46"},{"offset":0.401,"color":"#d4cc46"},{"offset":0.419,"color":"#a8b853"},{"offset":0.438,"color":"#80a55c"},{"offset":0.857,"color":"#7ea45c"},{"offset":0.893,"color":"#8cad58"},{"offset":0.961,"color":"#9bb457"},{"offset":0.962,"color":"#4e9b7d"},{"offset":1,"color":"#449780"}]}},
         "encoding": {"x": {"field": "d", "type": "temporal", "scale": {"type": "utc", "domain": [{"year": 2020, "month": "aug", "date": 16, "utc": true}, {"year": 2022, "month": "apr", "date": 11, "utc": true}]}, "axis": null},
                      "y": {"field": "v", "type": "quantitative", "scale": {"domain": [0, 3089], "nice": false},
                            "axis": {"orient": "left", "values": [0, 1000, 2000, 3000], "labelExpr": "(datum.value / 1000) + 'K'", "grid": true, "gridColor": "#ededed", "gridWidth": 2, "domain": false, "ticks": false, "labelFont": "Liberation Sans", "labelFontSize": 27, "labelColor": "#333333", "labelPadding": 3, "labelFlush": 12,
                                     "title": "New Cases / 1M", "titleFont": "Liberation Sans", "titleFontSize": 24, "titleFontWeight": "bold", "titleColor": "#3b444c", "titleAngle": 0, "titleAlign": "left", "titleBaseline": "middle", "titleX": -338, "titleY": 121}}}},
        {"data": {"name": "labels"}, "transform": [{"filter": "datum.m === 'cases'"}],
         "mark": {"type": "text", "font": "Liberation Sans", "fontWeight": "bold", "fontSize": 24, "fill": "#3b444c", "align": "center", "baseline": "middle"},
         "encoding": {"x": {"field": "d", "type": "temporal", "scale": {"type": "utc", "domain": [{"year": 2020, "month": "aug", "date": 16, "utc": true}, {"year": 2022, "month": "apr", "date": 11, "utc": true}]}, "axis": null},
                      "y": {"field": "v", "type": "quantitative", "scale": {"domain": [0, 3089], "nice": false}, "axis": null},
                      "text": {"field": "t"}}}
      ]
    },
    {
      "width": 2019, "height": 346,
      "resolve": {"axis": {"y": "independent"}},
      "layer": [
        {"data": {"values": [{}]}, "mark": {"type": "rule", "stroke": "#bfd7e8", "strokeWidth": 4, "strokeDash": [5, 4]},
         "encoding": {"x": {"datum": {"year": 2020, "month": "jul", "date": 13, "utc": true}, "type": "temporal", "scale": {"type": "utc", "domain": [{"year": 2020, "month": "aug", "date": 16, "utc": true}, {"year": 2022, "month": "apr", "date": 11, "utc": true}]}, "axis": null},
                      "x2": {"datum": {"year": 2022, "month": "apr", "date": 10, "utc": true}},
                      "y": {"datum": 0, "type": "quantitative", "scale": {"domain": [0, 20.4], "nice": false}, "axis": null}}},
        {"data": {"name": "deaths"}, "transform": [{"filter": "datum.s === 'ID'"}],
         "mark": {"type": "line", "strokeWidth": 5, "strokeCap": "round", "strokeJoin": "round",
                  "stroke": {"gradient": "linear", "x1": 0, "y1": 0, "x2": 1, "y2": 0, "stops": [{"offset":0,"color":"#e5c045"},{"offset":0.015,"color":"#dccf46"},{"offset":0.112,"color":"#dccf46"},{"offset":0.131,"color":"#e3c546"},{"offset":0.149,"color":"#e7c045"},{"offset":0.241,"color":"#e5c145"},{"offset":0.259,"color":"#dccf46"},{"offset":0.434,"color":"#d6ce47"},{"offset":0.48,"color":"#c4c44c"},{"offset":0.563,"color":"#aeb952"},{"offset":0.608,"color":"#92ad57"},{"offset":0.645,"color":"#7fa55c"},{"offset":0.893,"color":"#80a65c"},{"offset":0.926,"color":"#9cb457"},{"offset":1,"color":"#a7b955"}]}},
         "encoding": {"x": {"field": "d", "type": "temporal", "scale": {"type": "utc", "domain": [{"year": 2020, "month": "aug", "date": 16, "utc": true}, {"year": 2022, "month": "apr", "date": 11, "utc": true}]}, "axis": null},
                      "y": {"field": "v", "type": "quantitative", "scale": {"domain": [0, 20.4], "nice": false},
                            "axis": {"orient": "left", "labels": false, "ticks": false, "domain": false, "grid": false, "title": "14-day avg", "titleFont": "Liberation Sans", "titleFontSize": 21, "titleFontStyle": "italic", "titleFontWeight": "normal", "titleColor": "#555555", "titleAngle": 0, "titleAlign": "center", "titleBaseline": "middle", "titleX": -245, "titleY": 168}}}},
        {"data": {"name": "deaths"}, "transform": [{"filter": "datum.s === 'FL'"}],
         "mark": {"type": "line", "strokeWidth": 5, "strokeCap": "round", "strokeJoin": "round",
                  "stroke": {"gradient": "linear", "x1": 0, "y1": 0, "x2": 1, "y2": 0, "stops": [{"offset":0,"color":"#e5bd45"},{"offset":0.015,"color":"#dccc46"},{"offset":0.039,"color":"#bcc04e"},{"offset":0.057,"color":"#a9b553"},{"offset":0.158,"color":"#b0b951"},{"offset":0.186,"color":"#c6c64a"},{"offset":0.213,"color":"#d6cd46"},{"offset":0.401,"color":"#d4cc46"},{"offset":0.419,"color":"#a8b853"},{"offset":0.438,"color":"#80a55c"},{"offset":0.857,"color":"#7ea45c"},{"offset":0.893,"color":"#8cad58"},{"offset":0.961,"color":"#9bb457"},{"offset":0.962,"color":"#4e9b7d"},{"offset":1,"color":"#449780"}]}},
         "encoding": {"x": {"field": "d", "type": "temporal", "scale": {"type": "utc", "domain": [{"year": 2020, "month": "aug", "date": 16, "utc": true}, {"year": 2022, "month": "apr", "date": 11, "utc": true}]}, "axis": null},
                      "y": {"field": "v", "type": "quantitative", "scale": {"domain": [0, 20.4], "nice": false},
                            "axis": {"orient": "left", "values": [0, 5, 10, 15, 20], "format": "d", "grid": true, "gridColor": "#ededed", "gridWidth": 2, "domain": false, "ticks": false, "labelFont": "Liberation Sans", "labelFontSize": 27, "labelColor": "#333333", "labelPadding": 3, "labelFlush": 12,
                                     "title": "New Deaths / 1M", "titleFont": "Liberation Sans", "titleFontSize": 24, "titleFontWeight": "bold", "titleColor": "#3b444c", "titleAngle": 0, "titleAlign": "left", "titleBaseline": "middle", "titleX": -345, "titleY": 137}}}},
        {"data": {"name": "labels"}, "transform": [{"filter": "datum.m === 'deaths'"}],
         "mark": {"type": "text", "font": "Liberation Sans", "fontWeight": "bold", "fontSize": 24, "fill": "#3b444c", "align": "center", "baseline": "middle"},
         "encoding": {"x": {"field": "d", "type": "temporal", "scale": {"type": "utc", "domain": [{"year": 2020, "month": "aug", "date": 16, "utc": true}, {"year": 2022, "month": "apr", "date": 11, "utc": true}]}, "axis": null},
                      "y": {"field": "v", "type": "quantitative", "scale": {"domain": [0, 20.4], "nice": false}, "axis": null},
                      "text": {"field": "t"}}}
      ]
    },
    {
      "width": 2019, "height": 346,
      "resolve": {"axis": {"x": "independent", "y": "independent"}},
      "layer": [
        {"data": {"values": [{}]}, "mark": {"type": "rule", "stroke": "#bfd7e8", "strokeWidth": 4, "strokeDash": [5, 4]},
         "encoding": {"x": {"datum": {"year": 2020, "month": "jul", "date": 13, "utc": true}, "type": "temporal", "scale": {"type": "utc", "domain": [{"year": 2020, "month": "aug", "date": 16, "utc": true}, {"year": 2022, "month": "apr", "date": 11, "utc": true}]}, "axis": null},
                      "x2": {"datum": {"year": 2022, "month": "apr", "date": 10, "utc": true}},
                      "y": {"datum": 0, "type": "quantitative", "scale": {"domain": [0, 1.787], "nice": false}, "axis": null}}},
        {"data": {"values": [{}]}, "mark": {"type": "rule", "stroke": "#bfd7e8", "strokeWidth": 4, "strokeDash": [5, 4]},
         "encoding": {"x": {"datum": {"year": 2020, "month": "jul", "date": 13, "utc": true}, "type": "temporal", "scale": {"type": "utc", "domain": [{"year": 2020, "month": "aug", "date": 16, "utc": true}, {"year": 2022, "month": "apr", "date": 11, "utc": true}]}, "axis": null},
                      "x2": {"datum": {"year": 2022, "month": "apr", "date": 10, "utc": true}},
                      "y": {"datum": 1.787, "type": "quantitative", "scale": {"domain": [0, 1.787], "nice": false}, "axis": null}}},
        {"data": {"name": "vacc"}, "transform": [{"filter": "datum.s === 'ID'"}],
         "mark": {"type": "line", "strokeWidth": 3.6, "strokeCap": "round", "strokeJoin": "round",
                  "stroke": {"gradient": "linear", "x1": 0, "y1": 0, "x2": 1, "y2": 0, "stops": [{"offset":0,"color":"#e6c045"},{"offset":0.026,"color":"#e5c145"},{"offset":0.05,"color":"#dccf46"},{"offset":0.274,"color":"#d6ce47"},{"offset":0.333,"color":"#c4c44c"},{"offset":0.439,"color":"#aeb952"},{"offset":0.498,"color":"#92ad57"},{"offset":0.545,"color":"#7fa55c"},{"offset":0.863,"color":"#80a65c"},{"offset":0.906,"color":"#9cb457"},{"offset":1,"color":"#a7b955"}]}},
         "encoding": {"x": {"field": "d", "type": "temporal", "scale": {"type": "utc", "domain": [{"year": 2020, "month": "aug", "date": 16, "utc": true}, {"year": 2022, "month": "apr", "date": 11, "utc": true}]}, "axis": null},
                      "y": {"field": "v", "type": "quantitative", "scale": {"domain": [0, 1.787], "nice": false}, "axis": null}}},
        {"data": {"name": "vacc"}, "transform": [{"filter": "datum.s === 'FL'"}],
         "mark": {"type": "line", "strokeWidth": 3.6, "strokeCap": "round", "strokeJoin": "round",
                  "stroke": {"gradient": "linear", "x1": 0, "y1": 0, "x2": 1, "y2": 0, "stops": [{"offset":0,"color":"#d4cc46"},{"offset":0.231,"color":"#d4cc46"},{"offset":0.255,"color":"#a8b853"},{"offset":0.278,"color":"#80a55c"},{"offset":0.816,"color":"#7ea45c"},{"offset":0.863,"color":"#8cad58"},{"offset":0.95,"color":"#9bb457"},{"offset":0.952,"color":"#4e9b7d"},{"offset":1,"color":"#449780"}]}},
         "encoding": {"x": {"field": "d", "type": "temporal", "scale": {"type": "utc", "domain": [{"year": 2020, "month": "aug", "date": 16, "utc": true}, {"year": 2022, "month": "apr", "date": 11, "utc": true}]},
                            "axis": {"orient": "bottom", "domain": false, "grid": false, "ticks": true, "tickSize": 6, "tickColor": "#d8d8d8", "tickWidth": 1, "tickCount": {"interval": "month", "step": 1}, "labelExpr": "utcmonth(datum.value) % 2 == 0 ? utcFormat(datum.value, '%b %-d, %y') : ''", "labelFont": "Liberation Sans", "labelFontSize": 27, "labelColor": "#333333", "labelPadding": 8, "labelOverlap": false, "labelFlush": false, "title": null}},
                      "y": {"field": "v", "type": "quantitative", "scale": {"domain": [0, 1.787], "nice": false},
                            "axis": {"orient": "left", "values": [0, 0.5, 1, 1.5], "format": ".1f", "grid": true, "gridColor": "#ededed", "gridWidth": 2, "domain": false, "ticks": false, "labelFont": "Liberation Sans", "labelFontSize": 27, "labelColor": "#333333", "labelPadding": 3, "labelFlush": 12,
                                     "title": ["Vaccinations", "per Population"], "titleFont": "Liberation Sans", "titleFontSize": 24, "titleFontWeight": "bold", "titleColor": "#3b444c", "titleAngle": 0, "titleAlign": "center", "titleBaseline": "middle", "titleLineHeight": 31, "titleX": -245, "titleY": 153}}}},
        {"data": {"name": "labels"}, "transform": [{"filter": "datum.m === 'vacc'"}],
         "mark": {"type": "text", "font": "Liberation Sans", "fontWeight": "bold", "fontSize": 24, "fill": "#3b444c", "align": "center", "baseline": "middle"},
         "encoding": {"x": {"field": "d", "type": "temporal", "scale": {"type": "utc", "domain": [{"year": 2020, "month": "aug", "date": 16, "utc": true}, {"year": 2022, "month": "apr", "date": 11, "utc": true}]}, "axis": null},
                      "y": {"field": "v", "type": "quantitative", "scale": {"domain": [0, 1.787], "nice": false}, "axis": null},
                      "text": {"field": "t"}}}
      ]
    }
  ]
}
